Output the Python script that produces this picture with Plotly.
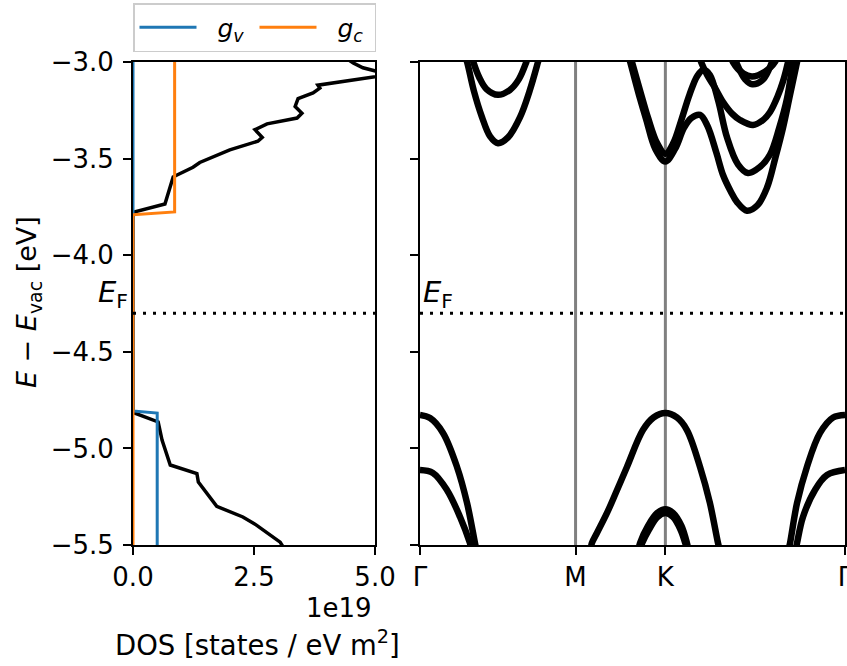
import plotly.graph_objects as go

# ---------------- DOS panel data (DOS in units of 1e19 states / eV m^2) ----------------
dos_energy = [-5.55, -5.485, -5.397, -5.355, -5.30, -5.174, -5.13, -5.086, -4.957, -4.863,
              -4.818, -4.81, -3.785, -3.776, -3.735, -3.595, -3.585, -3.545, -3.52, -3.455,
              -3.41, -3.39, -3.35, -3.32, -3.29, -3.265, -3.23, -3.19, -3.16, -3.135,
              -3.12, -3.11, -3.065, -3.03, -3.005, -2.98]
dos_total = [3.2, 3.04, 2.55, 2.27, 1.73, 1.35, 1.32, 0.77, 0.6, 0.52,
             0.04, 0.0, 0.0, 0.04, 0.66, 0.83, 0.91, 1.24, 1.38, 2.0,
             2.58, 2.67, 2.52, 2.77, 3.39, 3.49, 3.35, 3.41, 3.72, 3.86,
             3.82, 4.07, 5.3, 4.75, 4.55, 4.4]

gv_energy = [-5.55, -4.817, -4.806, -2.95]
gv_dos = [0.5, 0.5, 0.0, 0.0]
gc_energy = [-5.55, -3.79, -3.776, -2.95]
gc_dos = [0.0, 0.0, 0.86, 0.86]

E_F = -4.30
E_range = [-5.5, -3.0]
E_ticks = [-5.5, -5.0, -4.5, -4.0, -3.5, -3.0]
E_tick_labels = ["−5.5", "−5.0", "−4.5", "−4.0", "−3.5", "−3.0"]
dos_range = [0.0, 5.0]
dos_ticks = [0.0, 2.5, 5.0]
dos_tick_labels = ["0.0", "2.5", "5.0"]

# ---------------- band-structure data ----------------
k_ticks = [0.0, 0.866, 1.366, 2.366]
k_labels = ["Γ", "M", "K", "Γ"]

# conduction bands
cq1_k = [0.235, 0.262, 0.30, 0.345, 0.39, 0.434, 0.49, 0.557, 0.61, 0.657, 0.68]
cq1_E = [-2.92, -3.00, -3.15, -3.285, -3.385, -3.42, -3.39, -3.285, -3.15, -3.00, -2.92]
cq2_k = [0.28, 0.297, 0.33, 0.37, 0.434, 0.50, 0.55, 0.592, 0.61]
cq2_E = [-2.94, -3.00, -3.08, -3.14, -3.17, -3.145, -3.09, -3.00, -2.95]
ck1_k = [1.14, 1.17, 1.225, 1.26, 1.31, 1.366, 1.42, 1.47, 1.51, 1.559, 1.60, 1.65,
         1.687, 1.73, 1.765, 1.82, 1.88, 1.932, 1.98, 2.021, 2.06, 2.099, 2.12]
ck1_E = [-2.9, -3.0, -3.19, -3.30, -3.45, -3.515, -3.45, -3.34, -3.29, -3.274, -3.33, -3.47,
         -3.585, -3.67, -3.725, -3.77, -3.74, -3.65, -3.49, -3.34, -3.17, -3.0, -2.9]
ck2_k = [1.15, 1.18, 1.235, 1.27, 1.32, 1.366, 1.41, 1.455, 1.50, 1.545, 1.58, 1.614, 1.66,
         1.709, 1.77, 1.826, 1.89, 1.948, 2.0, 2.043, 2.077, 2.09]
ck2_E = [-2.9, -3.0, -3.18, -3.29, -3.42, -3.475, -3.42, -3.30, -3.17, -3.07, -3.04, -3.067,
         -3.20, -3.39, -3.53, -3.575, -3.545, -3.48, -3.34, -3.19, -3.0, -2.93]
cc_k = [1.54, 1.565, 1.60, 1.64, 1.687, 1.74, 1.781, 1.854, 1.91, 1.948, 1.99, 2.021, 2.049, 2.06]
cc_E = [-2.93, -3.0, -3.07, -3.13, -3.207, -3.27, -3.30, -3.326, -3.30, -3.26, -3.18, -3.10, -3.0, -2.95]
cd1_k = [1.72, 1.742, 1.80, 1.85, 1.92, 1.976, 1.995]
cd1_E = [-2.94, -3.0, -3.06, -3.075, -3.05, -3.0, -2.95]
cd2_k = [1.74, 1.76, 1.81, 1.85, 1.91, 1.96, 1.98]
cd2_E = [-2.95, -3.0, -3.09, -3.115, -3.09, -3.0, -2.95]

# valence bands
vg1_k = [0.0, 0.056, 0.128, 0.206, 0.262, 0.306, 0.315]
vg1_E = [-4.827, -4.843, -4.92, -5.096, -5.283, -5.49, -5.53]
vg2_k = [0.0, 0.072, 0.15, 0.223, 0.278, 0.29]
vg2_E = [-5.112, -5.127, -5.215, -5.355, -5.49, -5.53]
vg1r_k = [2.366, 2.30, 2.227, 2.154, 2.099, 2.06, 2.05]
vg1r_E = [-4.827, -4.84, -4.92, -5.096, -5.283, -5.49, -5.53]
vg2r_k = [2.366, 2.266, 2.199, 2.132, 2.099, 2.09]
vg2r_E = [-5.112, -5.138, -5.215, -5.355, -5.49, -5.53]
vk1_k = [0.95, 0.957, 0.985, 1.041, 1.097, 1.152, 1.241, 1.30, 1.366, 1.43, 1.486,
         1.559, 1.614, 1.659, 1.67]
vk1_E = [-5.53, -5.49, -5.438, -5.334, -5.215, -5.096, -4.905, -4.84, -4.817, -4.84, -4.905,
         -5.096, -5.283, -5.49, -5.53]
vk2a_k = [1.215, 1.225, 1.27, 1.32, 1.366, 1.41, 1.455, 1.486, 1.495]
vk2a_E = [-5.53, -5.49, -5.40, -5.335, -5.315, -5.335, -5.40, -5.49, -5.53]
vk2b_k = [1.222, 1.232, 1.275, 1.322, 1.366, 1.408, 1.45, 1.48, 1.489]
vk2b_E = [-5.53, -5.50, -5.42, -5.355, -5.335, -5.355, -5.42, -5.50, -5.53]

bands = [(cq1_k, cq1_E), (cq2_k, cq2_E), (ck1_k, ck1_E), (ck2_k, ck2_E), (cc_k, cc_E),
         (cd1_k, cd1_E), (cd2_k, cd2_E), (vg1_k, vg1_E), (vg2_k, vg2_E),
         (vg1r_k, vg1r_E), (vg2r_k, vg2r_E), (vk1_k, vk1_E), (vk2a_k, vk2a_E), (vk2b_k, vk2b_E)]

BLUE = "#1f77b4"
ORANGE = "#ff7f0e"
FONT = "DejaVu Sans"
NB = "\u00a0"

fig = go.Figure()

# DOS panel
fig.add_trace(go.Scatter(x=dos_total, y=dos_energy, mode="lines", line=dict(color="black", width=3.5),
                         showlegend=False, xaxis="x", yaxis="y"))
fig.add_trace(go.Scatter(x=gv_dos, y=gv_energy, mode="lines", line=dict(color=BLUE, width=3),
                         name=NB * 2 + "<i>g</i><sub><i>v</i></sub>", xaxis="x", yaxis="y"))
fig.add_trace(go.Scatter(x=gc_dos, y=gc_energy, mode="lines", line=dict(color=ORANGE, width=3),
                         name=NB * 2 + "<i>g</i><sub><i>c</i></sub>", xaxis="x", yaxis="y"))
fig.add_trace(go.Scatter(x=dos_range, y=[E_F, E_F], mode="lines",
                         line=dict(color="black", width=3, dash="3px,7px"),
                         showlegend=False, xaxis="x", yaxis="y"))

# band panel
for kk, ee in bands:
    fig.add_trace(go.Scatter(x=kk, y=ee, mode="lines",
                             line=dict(color="black", width=6.5, shape="spline", smoothing=1.0),
                             showlegend=False, xaxis="x2", yaxis="y2"))
fig.add_trace(go.Scatter(x=[k_ticks[0], k_ticks[-1]], y=[E_F, E_F], mode="lines",
                         line=dict(color="black", width=3, dash="3px,7px"),
                         showlegend=False, xaxis="x2", yaxis="y2"))

shapes = []
for kv in k_ticks[1:3]:
    shapes.append(dict(type="line", xref="x2", yref="y2 domain", x0=kv, x1=kv, y0=0, y1=1,
                       line=dict(color="#808080", width=3), layer="below"))

axis_common = dict(showline=True, linewidth=1.8, linecolor="black", mirror=True, ticks="outside",
                   ticklen=8, tickwidth=1.8, tickcolor="black", showgrid=False, zeroline=False,
                   automargin=False, ticklabeloverflow="allow",
                   tickfont=dict(family=FONT, size=26, color="black"))

fig.update_layout(
    width=847, height=666,
    margin=dict(l=133, r=2, t=62, b=121, autoexpand=False),
    plot_bgcolor="white", paper_bgcolor="white",
    font=dict(family=FONT, size=26, color="black"),
    showlegend=True,
    legend=dict(orientation="h", x=0, y=1.122, xanchor="left", yanchor="top",
                bgcolor="white", bordercolor="#cccccc", borderwidth=1.5,
                font=dict(family=FONT, size=25, color="black"),
                itemwidth=57, entrywidth=48, traceorder="normal"),
    xaxis=dict(domain=[0, 0.3399], range=dos_range, tickvals=dos_ticks, ticktext=dos_tick_labels,
               anchor="y", **axis_common),
    yaxis=dict(domain=[0, 1], range=E_range, tickvals=E_ticks, ticktext=E_tick_labels, anchor="x",
               ticklabelstandoff=4, **axis_common),
    xaxis2=dict(domain=[0.4031, 1.0], range=[k_ticks[0], k_ticks[-1]], tickvals=k_ticks,
                ticktext=k_labels, anchor="y2", **axis_common),
    yaxis2=dict(domain=[0, 1], range=E_range, tickvals=E_ticks, showticklabels=False, anchor="x2",
                **axis_common),
    shapes=shapes,
    annotations=[
        dict(text="<i>E</i> − <i>E</i><sub>vac</sub> [eV]", xref="paper", yref="paper",
             x=-0.1475, y=0.503, xanchor="center", yanchor="middle", textangle=-90,
             showarrow=False, font=dict(family=FONT, size=27, color="black")),
        dict(text="DOS [states / eV m<sup>2</sup>]", xref="paper", yref="paper",
             x=0.175, y=-0.203, xanchor="center", yanchor="middle",
             showarrow=False, font=dict(family=FONT, size=27.5, color="black")),
        dict(text="<i>E</i><sub>F</sub>", xref="x", yref="y", x=0, y=E_F, xanchor="right",
             yanchor="bottom", xshift=-3, yshift=-2, showarrow=False,
             font=dict(family=FONT, size=29, color="black")),
        dict(text="<i>E</i><sub>F</sub>", xref="x2", yref="y2", x=0, y=E_F, xanchor="left",
             yanchor="bottom", xshift=1, yshift=-2, showarrow=False,
             font=dict(family=FONT, size=29, color="black")),
        dict(text="1e19", xref="x", yref="paper", x=dos_range[1], y=-0.130, xanchor="right",
             yanchor="middle", xshift=-1, showarrow=False,
             font=dict(family=FONT, size=26, color="black")),
    ],
)

fig.write_html("out.html")
